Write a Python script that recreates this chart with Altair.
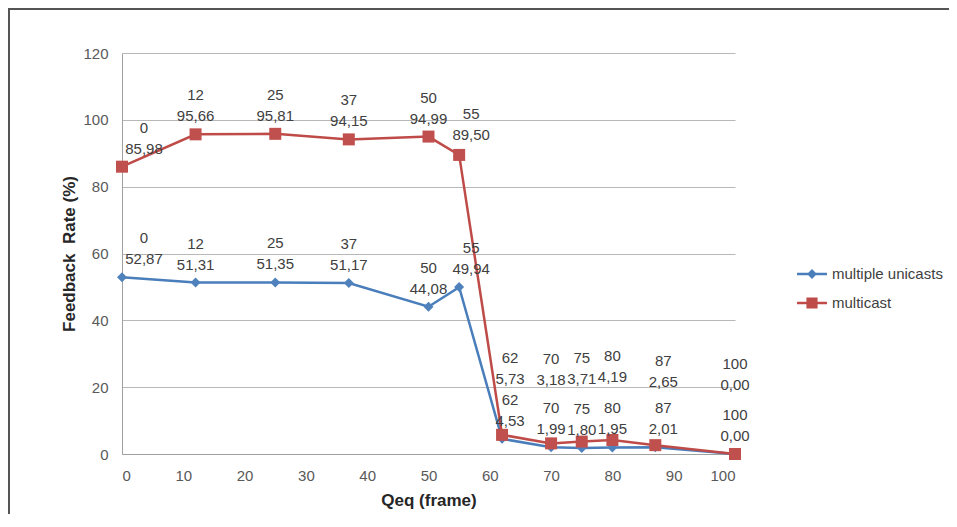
import altair as alt
import pandas as pd

# ---- data ----
qeq = [0, 12, 25, 37, 50, 55, 62, 70, 75, 80, 87, 100]
unicast = [52.87, 51.31, 51.35, 51.17, 44.08, 49.94, 4.53, 1.99, 1.80, 1.95, 2.01, 0.00]
multicast = [85.98, 95.66, 95.81, 94.15, 94.99, 89.50, 5.73, 3.18, 3.71, 4.19, 2.65, 0.00]
series_names = ["multiple unicasts", "multicast"]
x_ticks = [0, 10, 20, 30, 40, 50, 60, 70, 80, 90, 100]
y_ticks = [0, 20, 40, 60, 80, 100, 120]

rows = []
for name, vals in zip(series_names, [unicast, multicast]):
    for q, v in zip(qeq, vals):
        rows.append({"series": name, "qeq": q, "rate": v,
                     "label": f"{q}\n{v:.2f}".replace(".", ",")})
df = pd.DataFrame(rows)

BLUE_LINE, BLUE_PT = "#4A7EBB", "#4F81BD"
RED_LINE, RED_PT = "#BE4B48", "#C0504D"
FONT = "Liberation Sans"

x = alt.X("qeq:Q", scale=alt.Scale(domain=[0, 100], nice=False),
          axis=alt.Axis(values=x_ticks, title="Qeq (frame)", grid=False, ticks=False,
                        labelPadding=14, titlePadding=9))
y = alt.Y("rate:Q", scale=alt.Scale(domain=[0, 120], nice=False),
          axis=alt.Axis(values=y_ticks, title="Feedback\u00a0 Rate (%)", grid=True, ticks=False,
                        labelPadding=14, titlePadding=4))

base = alt.Chart(df).encode(x=x, y=y)
U = "datum.series == 'multiple unicasts'"
M = "datum.series == 'multicast'"

line_u = base.transform_filter(U).mark_line(color=BLUE_LINE, strokeWidth=2.5)
pts_u = base.transform_filter(U).mark_point(shape="diamond", filled=True, size=100,
                                             color=BLUE_PT, opacity=1)
line_m = base.transform_filter(M).mark_line(color=RED_LINE, strokeWidth=2.5)
pts_m = base.transform_filter(M).mark_point(shape="square", filled=True, size=144,
                                             color=RED_PT, opacity=1)

# label placement tweaks (Excel-style nudges); dy is the first line's bottom
label_rules = [
    (f"{U} && datum.qeq == 0", 22, -31),
    (f"{U} && datum.qeq == 55", 12, -31),
    (f"{U} && (datum.qeq == 62 || datum.qeq == 87)", 8, -31),
    (f"{U} && datum.qeq != 0 && datum.qeq != 55 && datum.qeq != 62 && datum.qeq != 87", 0, -31),
    (f"{M} && datum.qeq == 0", 22, -31),
    (f"{M} && datum.qeq == 55", 12, -33),
    (f"{M} && datum.qeq > 0 && datum.qeq < 55", 0, -31),
    (f"{M} && datum.qeq == 62", 8, -69),
    (f"{M} && datum.qeq == 87", 8, -76),
    (f"{M} && datum.qeq >= 70 && datum.qeq <= 80", 0, -76),
    (f"{M} && datum.qeq == 100", 0, -82),
]
label_layers = [
    base.transform_filter(cond).mark_text(
        font=FONT, fontSize=15, color="#404040", lineBreak="\n", lineHeight=21,
        baseline="bottom", align="center", dx=dx, dy=dy
    ).encode(text="label:N")
    for cond, dx, dy in label_rules
]

PATH_U = "M-1,-0.083L1,-0.083L1,0.083L-1,0.083Z M-0.33,0L0,-0.33L0.33,0L0,0.33Z"
PATH_M = "M-1,-0.083L1,-0.083L1,0.083L-1,0.083Z M-0.37,-0.37L0.37,-0.37L0.37,0.37L-0.37,0.37Z"
leg = dict(title=None, orient="none", legendX=675, legendY=206, symbolSize=900,
           symbolStrokeWidth=0, symbolOpacity=1, labelFont=FONT, labelFontSize=15,
           labelColor="#404040", labelOffset=5, rowPadding=6, padding=0)
legend_layer = alt.Chart(pd.DataFrame({"series": series_names})).mark_point(
    filled=True, opacity=0, size=10
).encode(
    color=alt.Color("series:N", scale=alt.Scale(domain=series_names, range=[BLUE_LINE, RED_LINE]),
                    legend=alt.Legend(**leg)),
    shape=alt.Shape("series:N", scale=alt.Scale(domain=series_names, range=[PATH_U, PATH_M]),
                    legend=alt.Legend(**leg)),
)

frame_left = alt.Chart(pd.DataFrame({"a": [0]})).mark_rule(color="#555555", strokeWidth=2).encode(
    x=alt.value(-113), y=alt.value(-45), y2=alt.value(480))
frame_top = alt.Chart(pd.DataFrame({"a": [0]})).mark_rule(color="#555555", strokeWidth=2).encode(
    x=alt.value(-114), x2=alt.value(840), y=alt.value(-44))

chart = alt.layer(line_u, pts_u, line_m, pts_m, *label_layers, legend_layer,
                  frame_left, frame_top).properties(
    width=613, height=401,
    autosize=alt.AutoSizeParams(type="none"),
    padding={"left": 114, "top": 45, "right": 214, "bottom": 60},
    background="white",
).configure_view(stroke=None).configure_axis(
    labelFont=FONT, labelFontSize=15, labelColor="#595959",
    titleFont=FONT, titleFontSize=17, titleFontWeight="bold", titleColor="#262626",
    domainColor="#a0a0a0", gridColor="#b8b8b8", gridWidth=1,
)

chart.save("out.html", embed_options={"renderer": "svg", "actions": False})
